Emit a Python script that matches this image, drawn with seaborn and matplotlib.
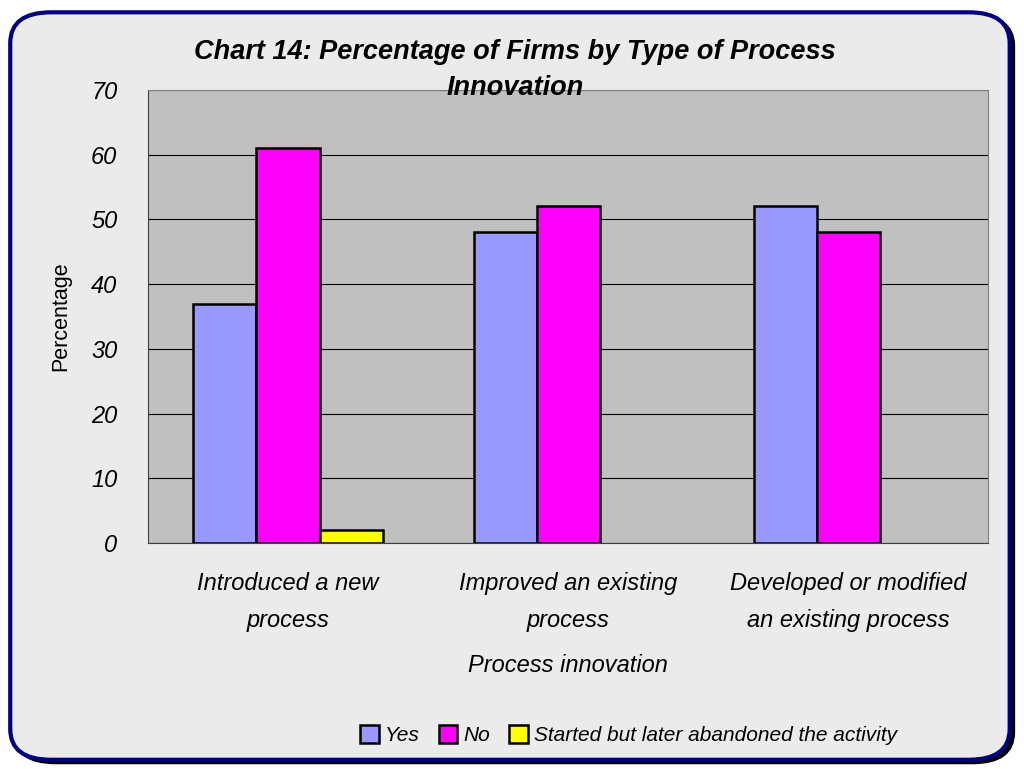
import pandas as pd
import numpy as np
import matplotlib.pyplot as plt
import seaborn as sns
from matplotlib.patches import FancyBboxPatch

# Datos del gráfico
categorias = ['Introduced a new\nprocess', 'Improved an existing\nprocess',
              'Developed or modified\nan existing process']
series = ['Yes', 'No', 'Started but later abandoned the activity']
si = [37, 48, 52]
no = [61, 52, 48]
abandonado = [2, np.nan, np.nan]
colores = ['#9999FF', '#FF00FF', '#FFFF00']

df = pd.DataFrame({
    'Categoria': categorias * 3,
    'Serie': [series[0]] * 3 + [series[1]] * 3 + [series[2]] * 3,
    'Valor': si + no + abandonado,
})

sns.set_style('white')
plt.rcParams['font.family'] = ['Liberation Sans', 'DejaVu Sans']
plt.rcParams['text.color'] = 'black'
plt.rcParams['axes.labelcolor'] = 'black'
plt.rcParams['xtick.color'] = 'black'
plt.rcParams['ytick.color'] = 'black'

fig = plt.figure(figsize=(10.24, 7.69), dpi=100)
fig.patch.set_facecolor('white')

# Marco redondeado con sombra
sombra = FancyBboxPatch((0.014, 0.008), 0.976, 0.972, boxstyle='round,pad=0,rounding_size=0.04',
                        transform=fig.transFigure, facecolor='black', edgecolor='black',
                        linewidth=2, zorder=0)
marco = FancyBboxPatch((0.010, 0.012), 0.976, 0.972, boxstyle='round,pad=0,rounding_size=0.04',
                       transform=fig.transFigure, facecolor='#EBEBEB', edgecolor='#000080',
                       linewidth=3, zorder=1)
fig.patches.extend([sombra, marco])

ax = fig.add_axes([0.1445, 0.2939, 0.8205, 0.5891])
ax.set_facecolor('#C0C0C0')
ax.set_zorder(2)

sns.barplot(data=df, x='Categoria', y='Valor', hue='Serie', hue_order=series,
            palette=colores, width=0.675, edgecolor='black', linewidth=1.8,
            saturation=1, errorbar=None, ax=ax, zorder=3)

ax.set_ylim(0, 70)
ax.set_xlim(-0.5, 2.5)
ax.set_yticks(range(0, 71, 10))
ax.yaxis.grid(True, color='black', linewidth=0.8)
ax.set_axisbelow(True)

ax.set_xticks([0.5, 1.5, 2.5, -0.5], minor=True)
ax.tick_params(axis='x', which='major', length=0, pad=21)
ax.tick_params(axis='x', which='minor', length=7, color='#404040')
ax.tick_params(axis='y', length=8, color='#404040', pad=14)
for lbl in ax.get_xticklabels() + ax.get_yticklabels():
    lbl.set_fontstyle('italic')
    lbl.set_fontsize(17)
for lbl in ax.get_xticklabels():
    lbl.set_linespacing(1.75)

for lado in ['top', 'right']:
    ax.spines[lado].set_color('#808080')
for lado in ['left', 'bottom']:
    ax.spines[lado].set_color('#404040')

ax.set_xlabel('Process innovation', fontsize=17, fontstyle='italic', labelpad=16)
ax.set_ylabel('Percentage', fontsize=15.5, labelpad=14)

fig.text(0.503, 0.909, 'Chart 14: Percentage of Firms by Type of Process\nInnovation',
         ha='center', va='center', fontsize=19.5, fontweight='bold', fontstyle='italic',
         linespacing=1.5, zorder=5)

ax.legend_.remove()
handles, labels = ax.get_legend_handles_labels()
leg = fig.legend(handles, labels, loc='center', bbox_to_anchor=(0.614, 0.044), ncol=3,
                 frameon=False, prop={'size': 15, 'style': 'italic'},
                 handlelength=0.9, handleheight=0.9, handletextpad=0.3, columnspacing=0.9)

plt.savefig('out.png', dpi=100, facecolor=fig.get_facecolor())
